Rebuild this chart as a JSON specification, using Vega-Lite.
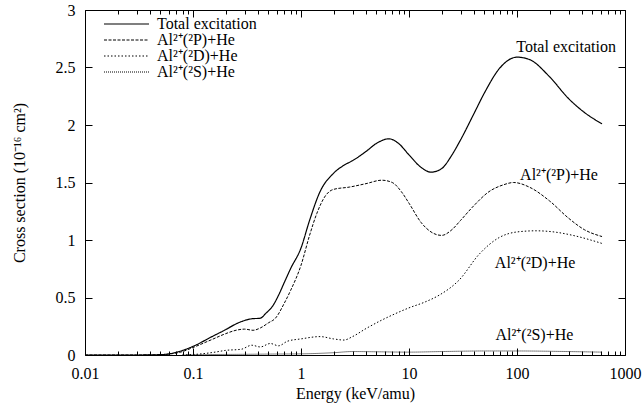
{
  "$schema": "https://vega.github.io/schema/vega-lite/v6.json",
  "autosize": {"type": "none"},
  "padding": {"left": 85, "top": 10, "right": 19, "bottom": 56},
  "width": 540,
  "height": 345,
  "config": {
    "font": "Liberation Serif",
    "view": {"stroke": "black", "strokeWidth": 1},
    "axis": {"domain": false, "grid": false, "ticks": true, "labelFontSize": 16, "labelColor": "black", "tickColor": "black", "tickWidth": 1, "tickOpacity": 1, "titleFontSize": 16, "titleFontWeight": "normal", "titleColor": "black", "labelFont": "Liberation Serif", "titleFont": "Liberation Serif"},
    "legend": {"labelFont": "Liberation Serif"},
    "text": {"font": "Liberation Serif"}
  },
  "datasets": {
    "curves": [
      {"E": 0.01, "s": 0.0, "series": "Total excitation"},
      {"E": 0.03, "s": 0.0, "series": "Total excitation"},
      {"E": 0.05, "s": 0.003, "series": "Total excitation"},
      {"E": 0.06, "s": 0.01, "series": "Total excitation"},
      {"E": 0.08, "s": 0.04, "series": "Total excitation"},
      {"E": 0.1, "s": 0.075, "series": "Total excitation"},
      {"E": 0.15, "s": 0.16, "series": "Total excitation"},
      {"E": 0.2, "s": 0.22, "series": "Total excitation"},
      {"E": 0.25, "s": 0.27, "series": "Total excitation"},
      {"E": 0.3, "s": 0.30, "series": "Total excitation"},
      {"E": 0.35, "s": 0.315, "series": "Total excitation"},
      {"E": 0.42, "s": 0.32, "series": "Total excitation"},
      {"E": 0.47, "s": 0.36, "series": "Total excitation"},
      {"E": 0.55, "s": 0.43, "series": "Total excitation"},
      {"E": 0.62, "s": 0.52, "series": "Total excitation"},
      {"E": 0.7, "s": 0.63, "series": "Total excitation"},
      {"E": 0.8, "s": 0.75, "series": "Total excitation"},
      {"E": 1.0, "s": 0.93, "series": "Total excitation"},
      {"E": 1.2, "s": 1.17, "series": "Total excitation"},
      {"E": 1.5, "s": 1.42, "series": "Total excitation"},
      {"E": 2.0, "s": 1.58, "series": "Total excitation"},
      {"E": 2.5, "s": 1.65, "series": "Total excitation"},
      {"E": 3.0, "s": 1.69, "series": "Total excitation"},
      {"E": 4.0, "s": 1.77, "series": "Total excitation"},
      {"E": 5.0, "s": 1.84, "series": "Total excitation"},
      {"E": 6.5, "s": 1.88, "series": "Total excitation"},
      {"E": 8.0, "s": 1.84, "series": "Total excitation"},
      {"E": 10, "s": 1.74, "series": "Total excitation"},
      {"E": 13, "s": 1.63, "series": "Total excitation"},
      {"E": 16, "s": 1.59, "series": "Total excitation"},
      {"E": 20, "s": 1.62, "series": "Total excitation"},
      {"E": 25, "s": 1.74, "series": "Total excitation"},
      {"E": 30, "s": 1.87, "series": "Total excitation"},
      {"E": 40, "s": 2.1, "series": "Total excitation"},
      {"E": 50, "s": 2.28, "series": "Total excitation"},
      {"E": 70, "s": 2.5, "series": "Total excitation"},
      {"E": 100, "s": 2.59, "series": "Total excitation"},
      {"E": 130, "s": 2.57, "series": "Total excitation"},
      {"E": 200, "s": 2.42, "series": "Total excitation"},
      {"E": 300, "s": 2.23, "series": "Total excitation"},
      {"E": 420, "s": 2.11, "series": "Total excitation"},
      {"E": 613, "s": 2.01, "series": "Total excitation"},

      {"E": 0.01, "s": 0.0, "series": "Al²⁺(²P)+He"},
      {"E": 0.03, "s": 0.0, "series": "Al²⁺(²P)+He"},
      {"E": 0.05, "s": 0.002, "series": "Al²⁺(²P)+He"},
      {"E": 0.06, "s": 0.008, "series": "Al²⁺(²P)+He"},
      {"E": 0.08, "s": 0.03, "series": "Al²⁺(²P)+He"},
      {"E": 0.1, "s": 0.065, "series": "Al²⁺(²P)+He"},
      {"E": 0.15, "s": 0.135, "series": "Al²⁺(²P)+He"},
      {"E": 0.2, "s": 0.185, "series": "Al²⁺(²P)+He"},
      {"E": 0.25, "s": 0.215, "series": "Al²⁺(²P)+He"},
      {"E": 0.3, "s": 0.225, "series": "Al²⁺(²P)+He"},
      {"E": 0.36, "s": 0.215, "series": "Al²⁺(²P)+He"},
      {"E": 0.42, "s": 0.235, "series": "Al²⁺(²P)+He"},
      {"E": 0.5, "s": 0.28, "series": "Al²⁺(²P)+He"},
      {"E": 0.58, "s": 0.32, "series": "Al²⁺(²P)+He"},
      {"E": 0.7, "s": 0.45, "series": "Al²⁺(²P)+He"},
      {"E": 0.8, "s": 0.56, "series": "Al²⁺(²P)+He"},
      {"E": 1.0, "s": 0.78, "series": "Al²⁺(²P)+He"},
      {"E": 1.2, "s": 1.04, "series": "Al²⁺(²P)+He"},
      {"E": 1.4, "s": 1.23, "series": "Al²⁺(²P)+He"},
      {"E": 1.7, "s": 1.39, "series": "Al²⁺(²P)+He"},
      {"E": 2.0, "s": 1.44, "series": "Al²⁺(²P)+He"},
      {"E": 2.8, "s": 1.46, "series": "Al²⁺(²P)+He"},
      {"E": 4.0, "s": 1.49, "series": "Al²⁺(²P)+He"},
      {"E": 5.6, "s": 1.52, "series": "Al²⁺(²P)+He"},
      {"E": 7.0, "s": 1.5, "series": "Al²⁺(²P)+He"},
      {"E": 8.5, "s": 1.42, "series": "Al²⁺(²P)+He"},
      {"E": 10, "s": 1.32, "series": "Al²⁺(²P)+He"},
      {"E": 13, "s": 1.15, "series": "Al²⁺(²P)+He"},
      {"E": 16, "s": 1.07, "series": "Al²⁺(²P)+He"},
      {"E": 20, "s": 1.04, "series": "Al²⁺(²P)+He"},
      {"E": 25, "s": 1.09, "series": "Al²⁺(²P)+He"},
      {"E": 30, "s": 1.17, "series": "Al²⁺(²P)+He"},
      {"E": 40, "s": 1.3, "series": "Al²⁺(²P)+He"},
      {"E": 55, "s": 1.42, "series": "Al²⁺(²P)+He"},
      {"E": 75, "s": 1.48, "series": "Al²⁺(²P)+He"},
      {"E": 93, "s": 1.5, "series": "Al²⁺(²P)+He"},
      {"E": 130, "s": 1.46, "series": "Al²⁺(²P)+He"},
      {"E": 200, "s": 1.34, "series": "Al²⁺(²P)+He"},
      {"E": 300, "s": 1.19, "series": "Al²⁺(²P)+He"},
      {"E": 420, "s": 1.09, "series": "Al²⁺(²P)+He"},
      {"E": 613, "s": 1.03, "series": "Al²⁺(²P)+He"},

      {"E": 0.08, "s": 0.0, "series": "Al²⁺(²D)+He"},
      {"E": 0.12, "s": 0.01, "series": "Al²⁺(²D)+He"},
      {"E": 0.16, "s": 0.025, "series": "Al²⁺(²D)+He"},
      {"E": 0.2, "s": 0.04, "series": "Al²⁺(²D)+He"},
      {"E": 0.28, "s": 0.05, "series": "Al²⁺(²D)+He"},
      {"E": 0.35, "s": 0.085, "series": "Al²⁺(²D)+He"},
      {"E": 0.42, "s": 0.07, "series": "Al²⁺(²D)+He"},
      {"E": 0.52, "s": 0.1, "series": "Al²⁺(²D)+He"},
      {"E": 0.62, "s": 0.08, "series": "Al²⁺(²D)+He"},
      {"E": 0.75, "s": 0.12, "series": "Al²⁺(²D)+He"},
      {"E": 1.0, "s": 0.14, "series": "Al²⁺(²D)+He"},
      {"E": 1.5, "s": 0.16, "series": "Al²⁺(²D)+He"},
      {"E": 2.0, "s": 0.14, "series": "Al²⁺(²D)+He"},
      {"E": 2.5, "s": 0.13, "series": "Al²⁺(²D)+He"},
      {"E": 3.0, "s": 0.16, "series": "Al²⁺(²D)+He"},
      {"E": 4.0, "s": 0.23, "series": "Al²⁺(²D)+He"},
      {"E": 5.5, "s": 0.3, "series": "Al²⁺(²D)+He"},
      {"E": 7.5, "s": 0.36, "series": "Al²⁺(²D)+He"},
      {"E": 10, "s": 0.41, "series": "Al²⁺(²D)+He"},
      {"E": 14, "s": 0.46, "series": "Al²⁺(²D)+He"},
      {"E": 19, "s": 0.52, "series": "Al²⁺(²D)+He"},
      {"E": 29, "s": 0.65, "series": "Al²⁺(²D)+He"},
      {"E": 45, "s": 0.88, "series": "Al²⁺(²D)+He"},
      {"E": 68, "s": 1.02, "series": "Al²⁺(²D)+He"},
      {"E": 100, "s": 1.07, "series": "Al²⁺(²D)+He"},
      {"E": 150, "s": 1.08, "series": "Al²⁺(²D)+He"},
      {"E": 220, "s": 1.07, "series": "Al²⁺(²D)+He"},
      {"E": 330, "s": 1.04, "series": "Al²⁺(²D)+He"},
      {"E": 613, "s": 0.97, "series": "Al²⁺(²D)+He"},

      {"E": 0.08, "s": 0.0, "series": "Al²⁺(²S)+He"},
      {"E": 0.15, "s": 0.004, "series": "Al²⁺(²S)+He"},
      {"E": 0.3, "s": 0.006, "series": "Al²⁺(²S)+He"},
      {"E": 0.5, "s": 0.008, "series": "Al²⁺(²S)+He"},
      {"E": 1.0, "s": 0.01, "series": "Al²⁺(²S)+He"},
      {"E": 2.0, "s": 0.02, "series": "Al²⁺(²S)+He"},
      {"E": 3.0, "s": 0.03, "series": "Al²⁺(²S)+He"},
      {"E": 5.0, "s": 0.028, "series": "Al²⁺(²S)+He"},
      {"E": 10, "s": 0.025, "series": "Al²⁺(²S)+He"},
      {"E": 20, "s": 0.03, "series": "Al²⁺(²S)+He"},
      {"E": 50, "s": 0.035, "series": "Al²⁺(²S)+He"},
      {"E": 100, "s": 0.035, "series": "Al²⁺(²S)+He"},
      {"E": 300, "s": 0.03, "series": "Al²⁺(²S)+He"},
      {"E": 613, "s": 0.025, "series": "Al²⁺(²S)+He"}
    ],
    "labels": [
      {"E": 285, "s": 2.68, "label": "Total excitation"},
      {"E": 245, "s": 1.565, "label": "Al²⁺(²P)+He"},
      {"E": 147, "s": 0.8, "label": "Al²⁺(²D)+He"},
      {"E": 145, "s": 0.17, "label": "Al²⁺(²S)+He"}
    ]
  },
  "layer": [
    {
      "data": {"name": "curves"},
      "transform": [{"filter": "datum.series == 'Total excitation'"}],
      "mark": {"type": "line", "interpolate": "monotone", "color": "black", "strokeWidth": 1.2, "clip": true},
      "encoding": {
        "x": {
          "field": "E", "type": "quantitative",
          "scale": {"type": "log", "domain": [0.01, 1000], "nice": false},
          "axis": {
            "orient": "bottom", "offset": -7, "tickSize": 7,
            "title": "Energy (keV/amu)", "titlePadding": 4,
            "values": [0.01, 0.1, 1, 10, 100, 1000],
            "format": "~g", "labelPadding": 10, "labelFlush": false, "labelOverlap": false
          }
        },
        "y": {
          "field": "s", "type": "quantitative",
          "scale": {"domain": [0, 3], "nice": false},
          "axis": {
            "orient": "left", "offset": -7, "tickSize": 7,
            "title": "Cross section (10⁻¹⁶ cm²)", "titlePadding": 28,
            "values": [0, 0.5, 1, 1.5, 2, 2.5, 3],
            "format": "~g", "labelPadding": 10
          }
        },
        "strokeDash": {
          "field": "series", "type": "nominal",
          "scale": {
            "domain": ["Total excitation", "Al²⁺(²P)+He", "Al²⁺(²D)+He", "Al²⁺(²S)+He"],
            "range": [[1, 0], [3, 1.5], [1.5, 2], [1, 1]]
          },
          "legend": {
            "orient": "none", "legendX": 18, "legendY": 6,
            "title": null, "padding": 0,
            "symbolType": "stroke", "symbolSize": 2025,
            "symbolStrokeColor": "black", "symbolStrokeWidth": 1.1,
            "labelFontSize": 16, "labelFont": "Liberation Serif", "labelColor": "black",
            "labelOffset": 7, "rowPadding": 0, "clipHeight": 16, "labelLimit": 300
          }
        }
      }
    },
    {
      "data": {"name": "curves"},
      "transform": [{"filter": "datum.series == 'Al²⁺(²P)+He'"}],
      "mark": {"type": "line", "interpolate": "monotone", "color": "black", "strokeWidth": 1, "clip": true},
      "encoding": {
        "x": {
          "field": "E", "type": "quantitative",
          "scale": {"type": "log", "domain": [0.01, 1000], "nice": false},
          "axis": {
            "orient": "bottom", "offset": -4, "tickSize": 4, "title": null, "labels": false,
            "values": [0.02,0.03,0.04,0.05,0.06,0.07,0.08,0.09,0.2,0.3,0.4,0.5,0.6,0.7,0.8,0.9,2,3,4,5,6,7,8,9,20,30,40,50,60,70,80,90,200,300,400,500,600,700,800,900]
          }
        },
        "y": {
          "field": "s", "type": "quantitative",
          "scale": {"domain": [0, 3], "nice": false},
          "axis": {"orient": "right", "offset": -7, "tickSize": 7, "title": null, "labels": false, "values": [0, 0.5, 1, 1.5, 2, 2.5, 3]}
        },
        "strokeDash": {"field": "series", "type": "nominal"}
      }
    },
    {
      "data": {"name": "curves"},
      "transform": [{"filter": "datum.series == 'Al²⁺(²D)+He' || datum.series == 'Al²⁺(²S)+He'"}],
      "mark": {"type": "line", "interpolate": "monotone", "color": "black", "strokeWidth": 1, "clip": true},
      "encoding": {
        "x": {
          "field": "E", "type": "quantitative",
          "scale": {"type": "log", "domain": [0.01, 1000], "nice": false},
          "axis": {"orient": "top", "offset": -7, "tickSize": 7, "title": null, "labels": false, "values": [0.01, 0.1, 1, 10, 100, 1000]}
        },
        "y": {
          "field": "s", "type": "quantitative",
          "scale": {"domain": [0, 3], "nice": false},
          "axis": null
        },
        "strokeDash": {"field": "series", "type": "nominal"}
      }
    },
    {
      "data": {"name": "labels"},
      "mark": {"type": "text", "fontSize": 16, "font": "Liberation Serif", "color": "black", "align": "center", "baseline": "middle"},
      "encoding": {
        "x": {
          "field": "E", "type": "quantitative",
          "scale": {"type": "log", "domain": [0.01, 1000], "nice": false},
          "axis": {
            "orient": "top", "offset": -4, "tickSize": 4, "title": null, "labels": false,
            "values": [0.02,0.03,0.04,0.05,0.06,0.07,0.08,0.09,0.2,0.3,0.4,0.5,0.6,0.7,0.8,0.9,2,3,4,5,6,7,8,9,20,30,40,50,60,70,80,90,200,300,400,500,600,700,800,900]
          }
        },
        "y": {
          "field": "s", "type": "quantitative",
          "scale": {"domain": [0, 3], "nice": false},
          "axis": null
        },
        "text": {"field": "label", "type": "nominal"}
      }
    }
  ],
  "resolve": {"axis": {"x": "independent", "y": "independent"}}
}
